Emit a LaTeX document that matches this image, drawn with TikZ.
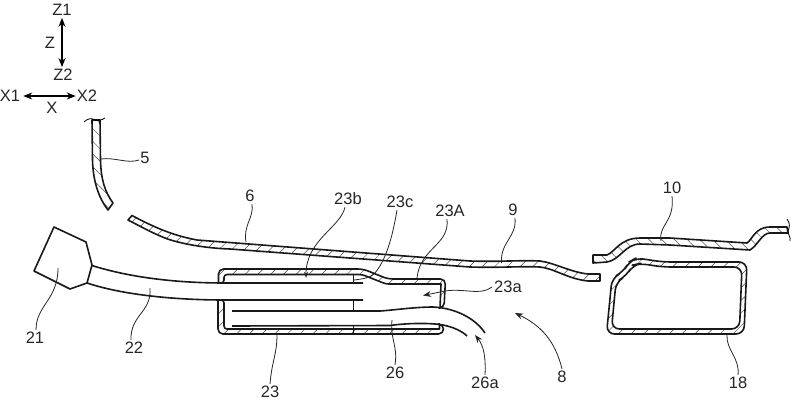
\documentclass[tikz,border=0pt]{standalone}
\usepackage{fontspec}
\setmainfont{Liberation Sans}
\usetikzlibrary{patterns.meta,arrows.meta,calc}
\tikzset{
  lab/.style={inner sep=0pt,font=\fontsize{16.5}{17}\selectfont,text=black!85},
  lead/.style={line width=.8pt,black!85},
  leadarrow/.style={lead,-{Stealth[length=8pt,width=6pt]}},
  axis/.style={line width=1.2pt,{Stealth[length=9pt,width=7pt]}-{Stealth[length=9pt,width=7pt]}},
  edge/.style={line width=1.6pt,black!90},
  bandr/.style={edge,pattern={Lines[angle=45,distance=9pt,line width=.5pt]},pattern color=black!70,line join=round},
  bandl/.style={edge,pattern={Lines[angle=-45,distance=9pt,line width=.5pt]},pattern color=black!70,line join=round}
}
\begin{document}
\begin{tikzpicture}[x=1pt,y=-1pt]
\useasboundingbox (0,0) rectangle (800,405);
\fill[white] (0,0) rectangle (800,405);
% axes
\node[lab] (z1) at (62,10) {Z1};
\node[lab] (z) at (50,43) {Z};
\node[lab] (z2) at (63,75) {Z2};
\node[lab] (x1) at (10,96) {X1};
\node[lab] (x2) at (87,96) {X2};
\node[lab] (x) at (52,108) {X};
\draw[axis] ($(z1.south)+(0,2)$) -- ($(z2.north)+(-1,-2)$);
\draw[axis] ($(x1.east)+(3,0)$) -- ($(x2.west)+(-1,0)$);
% panel 5
\draw[bandl] (92,120) -- (92.5,160) .. controls (93,180) and (98,197) .. (108,210) -- (113,203)
  .. controls (105,192) and (101,180) .. (100.5,160) -- (100,120) -- cycle;
\draw[line width=.8pt] (84,122) .. controls (88,118) and (92,118) .. (95,120) .. controls (98,121) and (102,120) .. (105,118);
% panel 6 / 9
\draw[bandr] (128,220) -- (132,215.5)
  .. controls (150,225) and (170,235) .. (197,240)
  -- (470,261) .. controls (500,262) and (520,260) .. (540,261)
  .. controls (555,263) and (570,272) .. (588,274) -- (600,274) -- (600,281) -- (588,281)
  .. controls (568,279) and (553,268) .. (540,267)
  .. controls (520,266) and (500,268) .. (470,267)
  -- (230,249) .. controls (200,248) and (175,242) .. (165,238) .. controls (150,232) and (140,226) .. (128,220) -- cycle;
% panel 10
\draw[bandl] (593,255) -- (607,255) .. controls (615,252) and (620,238) .. (640,238)
  -- (670,238) -- (747,243) .. controls (752,240) and (755,227) .. (770,227) -- (787,227)
  -- (788,233) -- (770,233) .. controls (762,233) and (758,245) .. (750,250)
  -- (670,245) -- (640,244) .. controls (625,244) and (620,260) .. (607,262) -- (593,263) -- cycle;
\draw[line width=.8pt] (787,219) .. controls (791,224) and (789,228) .. (788,231) .. controls (788,235) and (791,237) .. (790,241);
% box 18
\draw[bandr,even odd rule,rounded corners=8pt]
  (606.5,334) -- (744,334) -- (747,262) -- (663,262) -- (650,260) -- (636,258) -- (629,262) -- (623,272) -- (612,278) -- cycle
  (611.5,329) -- (739.5,329) -- (742,267) -- (663,267) -- (640,263.5) -- (633,265) -- (626,276) -- (616,282) -- cycle;
% box 23, upper part and lower part
\draw[bandr] (218.5,283) [rounded corners=5pt] -- (218.5,269) -- (363,269) -- (388,279) -- (445.5,279) -- (444,308) [sharp corners] -- (440,308) -- (441,284) [rounded corners=3pt] -- (386,284) -- (362,274.5) -- (224,274.5) -- (224,283) [sharp corners] -- cycle;
\draw[bandr] (218,300) [rounded corners=5pt] -- (218,334) -- (443.5,334) -- (443.5,324) [sharp corners] -- (439.5,324) -- (439.5,329) [rounded corners=3pt] -- (224,329) -- (224,300) [sharp corners] -- cycle;
% tube 22 and connector 21
\draw[edge,line join=round] (54,227) -- (86,242) -- (92,265) -- (87,283) -- (70,289) -- (34,271) -- cycle;
\draw[edge] (92,265.5) .. controls (125,276) and (170,283) .. (225,283) -- (363,283);
\draw[edge] (87,283) .. controls (120,294) and (170,300) .. (225,300) -- (363,300);
% joints
\draw[edge,line width=1pt] (353,274.5) -- (353,283);
\draw[edge,line width=1pt] (353,300) -- (353,311);
\draw[edge,line width=1pt] (353,326) -- (353,334);
% tube 26
\draw[edge] (232,311) -- (380,311) .. controls (395,310) and (415,307) .. (433,307) .. controls (455,308) and (475,318) .. (485,333);
\draw[edge] (232,326) -- (390,325.5) .. controls (400,324) and (425,322) .. (443,325) .. controls (453,327) and (462,331) .. (467,336);
% labels and leaders
\node[lab] (l5) at (145,158) {5};
\draw[lead] (l5.west) ++(-1,2) .. controls (127,164) and (115,157) .. (101,159);
\node[lab] (l6) at (250,196) {6};
\draw[lead] (l6.south) ++(2,2) .. controls (254,218) and (243,225) .. (246,242);
\node[lab] (l23b) at (348,199) {23b};
\draw[leadarrow,-{Stealth[length=6pt,width=4pt]}] (l23b.south) ++(-3,2) .. controls (340,228) and (306,240) .. (306,278);
\node[lab] (l23c) at (400,202) {23c};
\draw[lead] (l23c.south) ++(-3,2) .. controls (392,240) and (385,262) .. (374,274) .. controls (370,278) and (362,279) .. (354,280);
\node[lab] (l23A) at (450,211) {23A};
\draw[lead] (l23A.south) ++(-3,2) .. controls (450,245) and (420,248) .. (417,278);
\node[lab] (l9) at (513,210) {9};
\draw[lead] (l9.south) ++(2,2) .. controls (517,237) and (500,242) .. (501.5,263);
\node[lab] (l10) at (672,188) {10};
\draw[lead] (l10.south) ++(0,2) .. controls (675,222) and (658,225) .. (661,241);
\node[lab] (l23a) at (508,287) {23a};
\draw[leadarrow] (l23a.west) ++(-2,0) .. controls (480,296) and (465,288) .. (445,291) -- (423,295.5);
\node[lab] (l8) at (562,377) {8};
\draw[leadarrow] (l8.north) ++(0,-2) .. controls (555,340) and (540,325) .. (515,313);
\node[lab] (l26a) at (485,383) {26a};
\draw[leadarrow] (l26a.north) ++(0,-2) .. controls (486,355) and (483,345) .. (475,335);
\node[lab] (l26) at (395,373) {26};
\draw[lead] (l26.north) ++(0,-2) .. controls (398,345) and (390,340) .. (392,320);
\node[lab] (l23) at (270,392) {23};
\draw[lead] (l23.north) ++(0,-2) .. controls (272,360) and (277,355) .. (277,334);
\node[lab] (l22) at (134,348) {22};
\draw[lead] (l22.north) ++(-3,-2) .. controls (130,315) and (152,312) .. (150,288);
\node[lab] (l21) at (35,338) {21};
\draw[lead] (l21.north) ++(1,-2) .. controls (36,305) and (58,300) .. (58,268);
\node[lab] (l18) at (738,383) {18};
\draw[lead] (l18.north) ++(0,-2) .. controls (740,358) and (726,350) .. (727,335);
\end{tikzpicture}
\end{document}
